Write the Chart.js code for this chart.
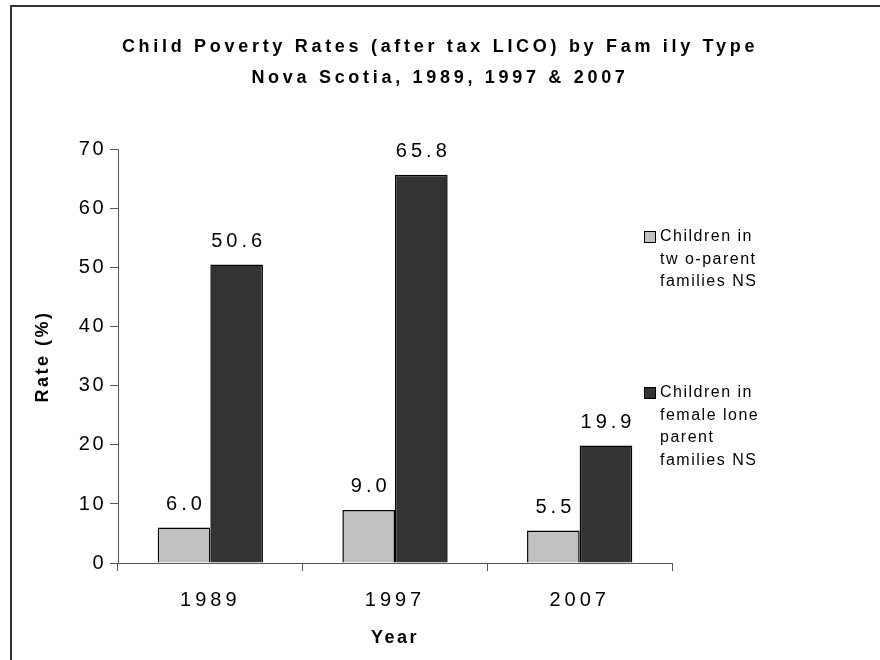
<!DOCTYPE html>
<html>
<head>
<meta charset="utf-8">
<script src="https://cdn.jsdelivr.net/npm/chart.js@4.4.0/dist/chart.umd.min.js"></script>
<style>
    html, body { margin: 0; padding: 0; background: #fff; overflow: hidden; }
    #wrap { position: relative; width: 880px; height: 660px; overflow: hidden; }
    #frame { position: absolute; left: 10px; top: 5px; width: 900px; height: 700px; border-left: 2px solid #333; border-top: 2px solid #333; }
    #chart { position: absolute; left: 0; top: 0; }
</style>
</head>
<body>
<div id="wrap">
    <div id="frame"></div>
    <canvas id="chart" width="880" height="660"></canvas>
</div>
<script>
const years = ['1989', '1997', '2007'];
const twoParent = [6.0, 9.0, 5.5];
const femaleLone = [50.6, 65.8, 19.9];
const legendLines = [
    ['Children in', 'tw o-parent', 'families NS'],
    ['Children in', 'female lone', 'parent', 'families NS']
];
const titleLines = ['Child Poverty Rates (after tax LICO) by Fam ily Type', 'Nova Scotia, 1989, 1997 & 2007'];
const yMin = 0, yMax = 70, yStep = 10;

const lightGrey = '#c0c0c0';
const darkGrey = '#333333';
const fontFamily = '"Liberation Sans", Arial, sans-serif';

Chart.defaults.font.family = fontFamily;
Chart.defaults.color = '#000';

// run a draw method with its own letter spacing
function spaced(fn, px) {
    return function (...args) {
        const c = this.ctx;
        const old = c.letterSpacing;
        c.letterSpacing = px;
        fn.apply(this, args);
        c.letterSpacing = old;
    };
}

// wide letter spacing like the original export
const spacing = {
    id: 'spacing',
    beforeUpdate(chart) { chart.ctx.letterSpacing = '4px'; },
    afterLayout(chart) {
        const tb = chart.titleBlock;
        if (tb && !tb._spaced) { tb.draw = spaced(tb.draw, '3.7px'); tb._spaced = true; }
        ['x', 'y'].forEach(id => {
            const s = chart.scales[id];
            if (s && !s._spaced) {
                s.drawTitle = spaced(s.drawTitle, '2.5px');
                if (id === 'y') s.drawLabels = spaced(s.drawLabels, '2.5px');
                s._spaced = true;
            }
        });
    },
    beforeDraw(chart) { chart.ctx.letterSpacing = '4px'; }
};

const valueLabels = {
    id: 'valueLabels',
    afterDatasetsDraw(chart) {
        const ctx = chart.ctx;
        ctx.save();
        ctx.letterSpacing = '4px';
        ctx.font = '20px ' + fontFamily;
        ctx.fillStyle = '#000';
        ctx.textAlign = 'center';
        ctx.textBaseline = 'middle';
        chart.data.datasets.forEach((ds, i) => {
            chart.getDatasetMeta(i).data.forEach((bar, j) => {
                ctx.fillText(ds.data[j].toFixed(1), bar.x + 2, bar.y - 23);
            });
        });
        ctx.restore();
    }
};

const sideLegend = {
    id: 'sideLegend',
    afterDraw(chart) {
        const ctx = chart.ctx;
        const x = chart.chartArea.right - 28;
        const tops = [237, 393];
        const lineH = 22.5;
        ctx.save();
        ctx.letterSpacing = '1.5px';
        ctx.font = '16px ' + fontFamily;
        ctx.textAlign = 'left';
        ctx.textBaseline = 'middle';
        chart.data.datasets.forEach((ds, i) => {
            ctx.fillStyle = ds.backgroundColor;
            ctx.fillRect(x, tops[i] - 6, 12, 12);
            ctx.strokeStyle = '#000';
            ctx.lineWidth = 1;
            ctx.strokeRect(x + 0.5, tops[i] - 5.5, 11, 11);
            ctx.fillStyle = '#000';
            legendLines[i].forEach((line, k) => {
                ctx.fillText(line, x + 16, tops[i] + k * lineH);
            });
        });
        ctx.restore();
    }
};

new Chart(document.getElementById('chart').getContext('2d'), {
    type: 'bar',
    data: {
        labels: years,
        datasets: [
            {
                label: legendLines[0].join(' '),
                data: twoParent,
                backgroundColor: lightGrey,
                borderColor: '#000',
                borderWidth: 1.5,
                barPercentage: 1,
                categoryPercentage: 0.57
            },
            {
                label: legendLines[1].join(' '),
                data: femaleLone,
                backgroundColor: darkGrey,
                borderColor: '#000',
                borderWidth: 1.5,
                barPercentage: 1,
                categoryPercentage: 0.57
            }
        ]
    },
    options: {
        responsive: false,
        animation: false,
        layout: { padding: 0 },
        plugins: {
            legend: { display: false },
            tooltip: { enabled: false },
            title: {
                display: true,
                text: titleLines,
                color: '#000',
                font: { size: 18, weight: 'bold', lineHeight: 1.72 },
                padding: { top: 32, bottom: 56 }
            }
        },
        scales: {
            x: {
                grid: { display: true, drawOnChartArea: false, offset: true, tickLength: 8, color: '#555' },
                border: { color: '#555' },
                ticks: { font: { size: 20 }, color: '#000', padding: 17 },
                title: { display: true, text: 'Year', font: { size: 18, weight: 'bold' }, padding: { top: 0, bottom: 11 } },
                afterFit(scale) { scale.height = 97; }
            },
            y: {
                min: yMin,
                max: yMax,
                grid: { display: true, drawOnChartArea: false, tickLength: 8, color: '#555' },
                border: { color: '#555' },
                ticks: { stepSize: yStep, font: { size: 20 }, color: '#000', padding: 4 },
                title: { display: true, text: 'Rate (%)', font: { size: 18, weight: 'bold' }, padding: { top: 32, bottom: 0 } },
                afterFit(scale) { scale.width = 118; }
            },
            yRight: {
                type: 'linear',
                position: 'right',
                display: true,
                grid: { display: false },
                border: { display: false },
                ticks: { display: false },
                afterFit(scale) { scale.width = 208; }
            }
        }
    },
    plugins: [spacing, valueLabels, sideLegend]
});
</script>
</body>
</html>
